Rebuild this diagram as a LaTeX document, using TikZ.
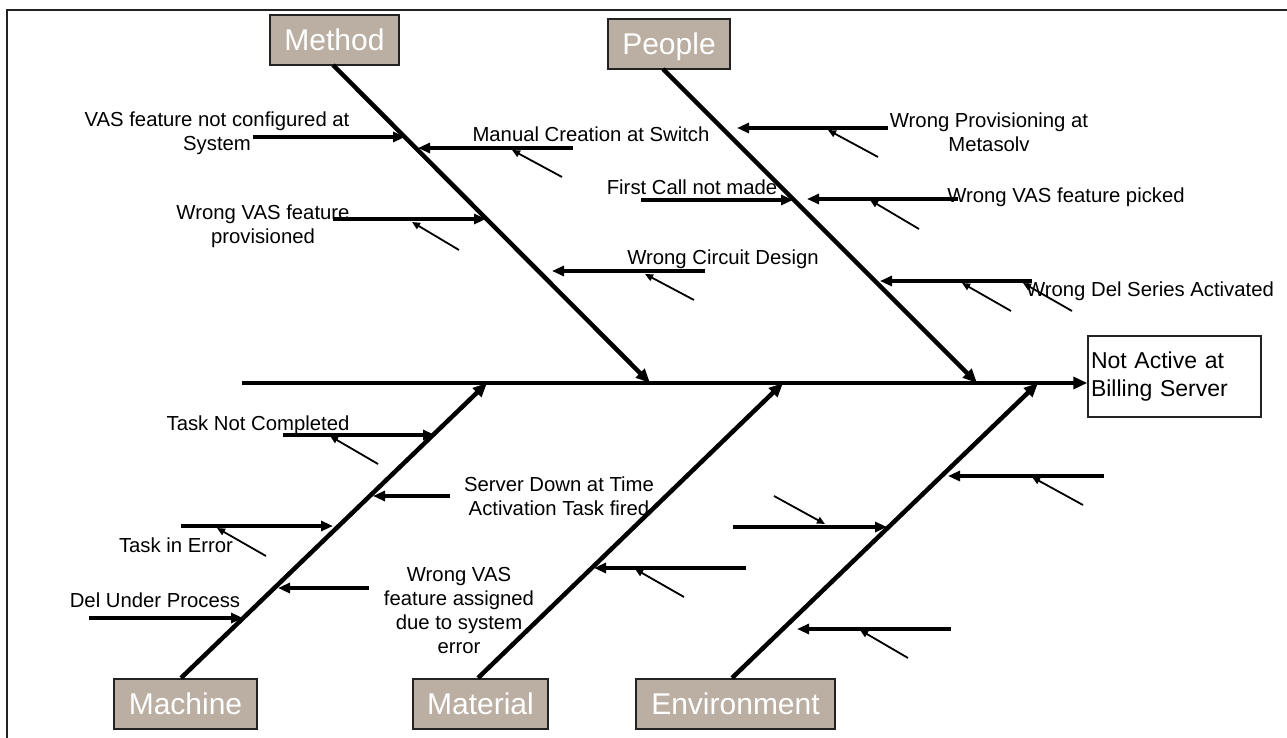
\documentclass[tikz,border=0pt]{standalone}
\usepackage{fontspec}
\setmainfont{Liberation Sans}
\usetikzlibrary{arrows.meta}
\definecolor{catfill}{HTML}{BBAFA3}
\definecolor{edgecol}{HTML}{222222}
\tikzset{
  cat/.style={draw=edgecol, line width=2pt, fill=catfill, text=white,
    font=\fontsize{30}{34}\selectfont, minimum height=50pt, inner sep=0pt,
    text height=21.6pt, text depth=0pt},
  lbl/.style={font=\fontsize{20.3}{24}\selectfont, align=center, inner sep=0pt, anchor=base},
  bone/.style={line width=4.5pt, -{Triangle[length=14pt,width=12pt]}},
  sub/.style={line width=3.5pt, -{Triangle[length=12pt,width=10pt]}},
  subsub/.style={line width=1.8pt, -{Triangle[length=8pt,width=7pt]}},
}
\begin{document}
\begin{tikzpicture}[x=1pt,y=-1pt]
\useasboundingbox (0,0) rectangle (1287,738);
% frame
\draw[edgecol, line width=2pt] (7,745) -- (7,10.5) -- (1295,10.5);

% category boxes
\node[cat, minimum width=129pt] (method) at (334.5,40) {Method};
\node[cat, minimum width=122pt] (people) at (669,44) {People};
\node[cat, minimum width=143pt] (machine) at (185.5,703.5) {Machine};
\node[cat, minimum width=135pt] (material) at (480.5,703.5) {Material};
\node[cat, minimum width=199pt] (environment) at (735.5,704) {Environment};

% effect
\node[draw=edgecol, line width=1.5pt, minimum width=173pt, minimum height=81pt,
  text width=167pt, align=left, inner xsep=2pt, inner ysep=0pt,
  font=\fontsize{23}{28}\selectfont] (eff) at (1174.5,376.5) {Not Active at\\Billing Server\\[-6pt]};

% spine
\coordinate (spS) at (242,383);
\draw[bone] (spS) -- (spS -| eff.west);

% main bones
\coordinate (mB) at (333,65);   \coordinate (mT) at (650,383);
\coordinate (pB) at (663,69);   \coordinate (pT) at (977,383);
\coordinate (cB) at (181,678);  \coordinate (cT) at (487,383);
\coordinate (tB) at (478,678);  \coordinate (tT) at (783,383);
\coordinate (eB) at (732,678);  \coordinate (eT) at (1038,383);
\draw[bone] (mB) -- (mT);
\draw[bone] (pB) -- (pT);
\draw[bone] (cB) -- (cT);
\draw[bone] (tB) -- (tT);
\draw[bone] (eB) -- (eT);

% ---- Method sub-bones
\coordinate (m1a) at (253,137); \coordinate (m1b) at (405,137);
\draw[sub] (m1a) -- (m1b);
\coordinate (m2a) at (573,148); \coordinate (m2b) at (418,148);
\draw[sub] (m2a) -- (m2b);
\coordinate (m2sa) at (562,177); \coordinate (m2sb) at (512,150);
\draw[subsub] (m2sa) -- (m2sb);
\coordinate (m3a) at (333,219); \coordinate (m3b) at (486,219);
\draw[sub] (m3a) -- (m3b);
\coordinate (m3sa) at (459,250); \coordinate (m3sb) at (412,222);
\draw[subsub] (m3sa) -- (m3sb);
\coordinate (m4a) at (705,271); \coordinate (m4b) at (552,271);
\draw[sub] (m4a) -- (m4b);
\coordinate (m4sa) at (694,300); \coordinate (m4sb) at (645,274);
\draw[subsub] (m4sa) -- (m4sb);

\node[lbl] (lm1) at (217,151) {VAS feature not configured at\\System};
\node[lbl] (lm2) at (591,142) {Manual Creation at Switch};
\node[lbl] (lm3) at (263,243) {Wrong VAS feature\\provisioned};
\node[lbl] (lm4) at (723,264) {Wrong Circuit Design};

% ---- People sub-bones
\coordinate (p1a) at (888,128); \coordinate (p1b) at (737,128);
\draw[sub] (p1a) -- (p1b);
\coordinate (p1sa) at (878,157); \coordinate (p1sb) at (828,130);
\draw[subsub] (p1sa) -- (p1sb);
\coordinate (p2a) at (641,200); \coordinate (p2b) at (793,200);
\draw[sub] (p2a) -- (p2b);
\coordinate (p3a) at (958,199); \coordinate (p3b) at (807,199);
\draw[sub] (p3a) -- (p3b);
\coordinate (p3sa) at (919,229); \coordinate (p3sb) at (870,200);
\draw[subsub] (p3sa) -- (p3sb);
\coordinate (p4a) at (1032,281); \coordinate (p4b) at (880,281);
\draw[sub] (p4a) -- (p4b);
\coordinate (p4sa) at (1011,311); \coordinate (p4sb) at (962,283);
\draw[subsub] (p4sa) -- (p4sb);
\coordinate (p4ta) at (1072,311); \coordinate (p4tb) at (1023,283);
\draw[subsub] (p4ta) -- (p4tb);

\node[lbl] (lp1) at (989,152) {Wrong Provisioning at\\Metasolv};
\node[lbl] (lp2) at (692,194) {First Call not made};
\node[lbl] (lp3) at (1066,203) {Wrong VAS feature picked};
\node[lbl] (lp4) at (1150,296) {Wrong Del Series Activated};

% ---- Machine sub-bones
\coordinate (c1a) at (283,435); \coordinate (c1b) at (435,435);
\draw[sub] (c1a) -- (c1b);
\coordinate (c1sa) at (378,464); \coordinate (c1sb) at (330,436);
\draw[subsub] (c1sa) -- (c1sb);
\coordinate (c2a) at (450,496); \coordinate (c2b) at (373,496);
\draw[sub] (c2a) -- (c2b);
\coordinate (c3a) at (181,526); \coordinate (c3b) at (333,526);
\draw[sub] (c3a) -- (c3b);
\coordinate (c3sa) at (266,556); \coordinate (c3sb) at (217,528);
\draw[subsub] (c3sa) -- (c3sb);
\coordinate (c4a) at (369,588); \coordinate (c4b) at (278,588);
\draw[sub] (c4a) -- (c4b);
\coordinate (c5a) at (89,618); \coordinate (c5b) at (243,618);
\draw[sub] (c5a) -- (c5b);

\node[lbl] (lc1) at (258,430) {Task Not Completed};
\node[lbl] (lc2) at (559,515) {Server Down at Time\\Activation Task fired};
\node[lbl] (lc3) at (176,552) {Task in Error};
\node[lbl] (lc4) at (459,653) {Wrong VAS\\feature assigned\\due to system\\error};
\node[lbl] (lc5) at (155,607) {Del Under Process};

% ---- Material sub-bones
\coordinate (t1a) at (746,568); \coordinate (t1b) at (594,568);
\draw[sub] (t1a) -- (t1b);
\coordinate (t1sa) at (684,597); \coordinate (t1sb) at (635,569);
\draw[subsub] (t1sa) -- (t1sb);

% ---- Environment sub-bones
\coordinate (e1a) at (733,527); \coordinate (e1b) at (887,527);
\draw[sub] (e1a) -- (e1b);
\coordinate (e1sa) at (774,496); \coordinate (e1sb) at (825,524);
\draw[subsub] (e1sa) -- (e1sb);
\coordinate (e2a) at (1104,476); \coordinate (e2b) at (948,476);
\draw[sub] (e2a) -- (e2b);
\coordinate (e2sa) at (1083,505); \coordinate (e2sb) at (1032,477);
\draw[subsub] (e2sa) -- (e2sb);
\coordinate (e3a) at (951,629); \coordinate (e3b) at (797,629);
\draw[sub] (e3a) -- (e3b);
\coordinate (e3sa) at (908,658); \coordinate (e3sb) at (860,630);
\draw[subsub] (e3sa) -- (e3sb);
\end{tikzpicture}
\end{document}
